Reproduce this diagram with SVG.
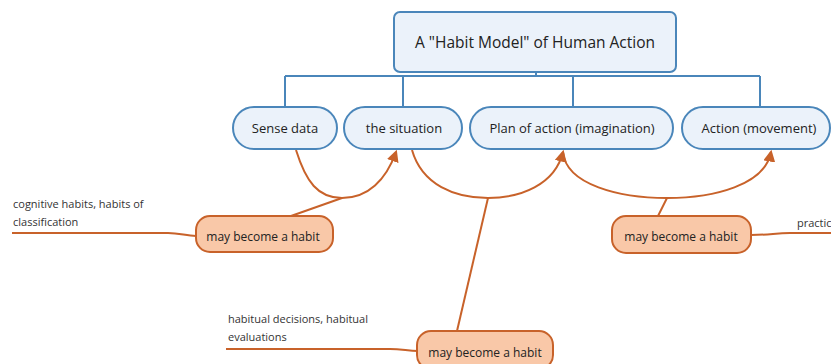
<svg xmlns="http://www.w3.org/2000/svg" width="831" height="364" viewBox="0 0 831 364">
  <style>
    .topic { fill: #ebf2fa; stroke: #4a86ba; stroke-width: 2; }
    .sub { fill: #f9c8a8; stroke: #c8622a; stroke-width: 2; }
    .tree { fill: none; stroke: #4a86ba; stroke-width: 2; }
    .rel { fill: none; stroke: #c8622a; stroke-width: 2; }
    .t { font-family: "Open Sans", "Noto Sans", sans-serif; fill: #222; }
    .title { font-size: 15.5px; }
    .main { font-size: 13px; }
    .small { font-size: 12px; }
    .note { font-size: 11px; fill: #333; }
  </style>
  <defs>
    <marker id="arrow" viewBox="0 0 10 10" refX="8" refY="5" markerWidth="6" markerHeight="6" orient="auto-start-reverse">
      <path d="M0,0 L10,5 L0,10 z" fill="#c8622a"/>
    </marker>
  </defs>

  <!-- tree connectors -->
  <g id="connectors">
    <path class="tree" d="M536,72 V76 M285,76 H760 M285,76 V107 M403,76 V107 M573,76 V107 M760,76 V107"/>
    <!-- relationship curves -->
    <path class="rel" d="M296,150 C306,182 318,198 342,198 C368,198 386,180 396,152" marker-end="url(#arrow)"/>
    <path class="rel" d="M291,216 L342,198"/>
    <path class="rel" d="M412,150 C422,185 455,198 488,198 C520,198 555,185 563,152" marker-end="url(#arrow)"/>
    <path class="rel" d="M457,331 L488,198"/>
    <path class="rel" d="M563,152 C566,185 620,198 667,198 C714,198 765,185 771,152" marker-end="url(#arrow)"/>
    <path class="rel" d="M658,216 L667,198"/>
    <!-- leader lines to annotations -->
    <path class="rel" d="M12,233 H168 C180,233 186,236 196,236"/>
    <path class="rel" d="M226,349 H390 C402,349 408,351 418,351"/>
    <path class="rel" d="M751,235 C770,235 775,233 790,233 H831"/>
  </g>

  <g id="root">
    <rect class="topic" x="394" y="12" width="282" height="60" rx="6"/>
    <text class="t title" x="535" y="48" text-anchor="middle">A "Habit Model" of Human Action</text>
  </g>

  <g id="sense-data">
    <rect class="topic" x="233" y="107" width="104" height="42" rx="21"/>
    <text class="t main" x="285" y="133" text-anchor="middle">Sense data</text>
  </g>
  <g id="situation">
    <rect class="topic" x="344" y="107" width="118" height="42" rx="21"/>
    <text class="t main" x="404" y="133" text-anchor="middle">the situation</text>
  </g>
  <g id="plan">
    <rect class="topic" x="470" y="107" width="203" height="42" rx="21"/>
    <text class="t main" x="572" y="133" text-anchor="middle">Plan of action (imagination)</text>
  </g>
  <g id="action">
    <rect class="topic" x="682" y="107" width="148" height="42" rx="21"/>
    <text class="t main" x="759" y="133" text-anchor="middle">Action (movement)</text>
  </g>

  <g id="habit-1">
    <rect class="sub" x="196" y="216" width="137" height="36" rx="14"/>
    <text class="t small" x="263" y="241" text-anchor="middle">may become a habit</text>
  </g>
  <g id="habit-2">
    <rect class="sub" x="612" y="216" width="139" height="37" rx="14"/>
    <text class="t small" x="681" y="241" text-anchor="middle">may become a habit</text>
  </g>
  <g id="habit-3">
    <rect class="sub" x="417" y="331" width="136" height="38" rx="14"/>
    <text class="t small" x="485" y="357" text-anchor="middle">may become a habit</text>
  </g>

  <g id="note-cognitive">
    <text class="t note" x="13" y="208">cognitive habits, habits of</text>
    <text class="t note" x="13" y="226">classification</text>
  </g>
  <g id="note-decisions">
    <text class="t note" x="228" y="323">habitual decisions, habitual</text>
    <text class="t note" x="228" y="341">evaluations</text>
  </g>
  <g id="note-practice">
    <text class="t note" x="797" y="227">practic</text>
  </g>
</svg>
